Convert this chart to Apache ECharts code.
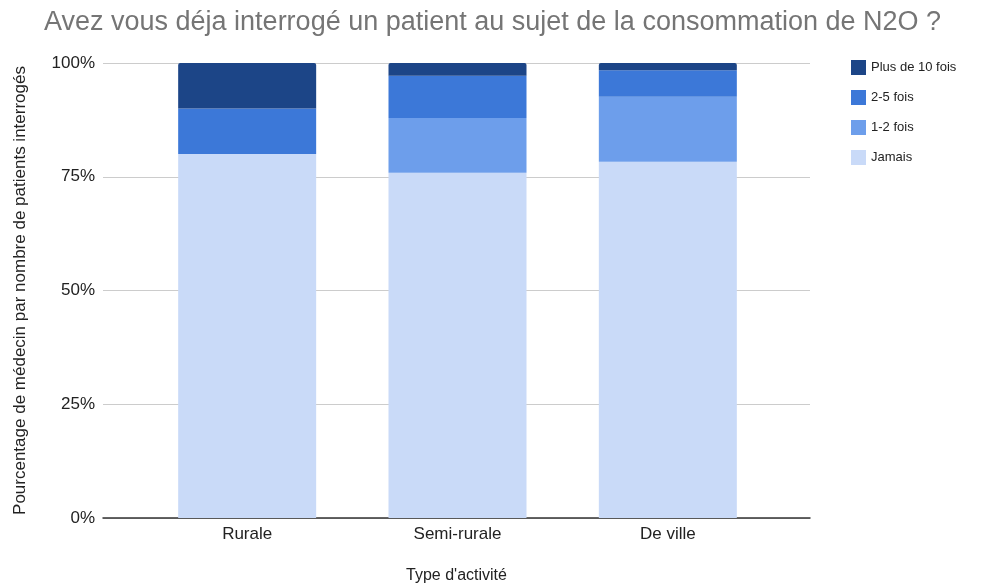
<!DOCTYPE html>
<html>
<head>
<meta charset="utf-8">
<script src="https://cdn.jsdelivr.net/npm/echarts@6/dist/echarts.min.js"></script>
<style>
html, body { margin: 0; padding: 0; background: #fff; }
#main { width: 985px; height: 585px; }
</style>
</head>
<body>
<div id="main"></div>
<script>
// données (en %)
var categories = ['Rurale', 'Semi-rurale', 'De ville'];
var jamais = [80.0, 75.9, 78.3];
var unDeux = [0, 12.0, 14.3];
var deuxCinq = [10.0, 9.3, 5.8];
var plusDix = [10.0, 2.8, 1.6];
var yTicks = [0, 25, 50, 75, 100];

var font = 'Liberation Sans, Arial, sans-serif';
var chart = echarts.init(document.getElementById('main'));

function barSerie(name, data, color, radius) {
	return {
		name: name,
		type: 'bar',
		stack: 'total',
		xAxisIndex: 1,
		yAxisIndex: 1,
		barWidth: 138,
		itemStyle: { color: color, borderRadius: radius || 0 },
		data: data
	};
}

var option = {
	animation: false,
	title: {
		text: 'Avez vous déja interrogé un patient au sujet de la consommation de N2O ?',
		left: 'center',
		top: 4,
		textStyle: { fontFamily: font, fontSize: 27, fontWeight: 'normal', color: '#757575' }
	},
	legend: {
		orient: 'vertical',
		left: 846,
		top: 55,
		itemWidth: 15,
		itemHeight: 15,
		itemGap: 15,
		icon: 'rect',
		textStyle: { fontFamily: font, fontSize: 13, color: '#222' },
		data: ['Plus de 10 fois', '2-5 fois', '1-2 fois', 'Jamais']
	},
	grid: [
		{ left: 103, right: 175, top: 63, bottom: 67, containLabel: false, outerBoundsMode: 'none' },
		{ left: 142, right: 212, top: 63, bottom: 67, containLabel: false, outerBoundsMode: 'none' }
	],
	xAxis: [{
		gridIndex: 0,
		type: 'value',
		min: 0,
		max: 1,
		axisLine: { show: true, onZero: false, lineStyle: { color: '#333', width: 1.5 } },
		axisTick: { show: false },
		axisLabel: { show: false },
		splitLine: { show: false },
		name: "Type d'activité",
		nameLocation: 'middle',
		nameGap: 50,
		nameTextStyle: { fontFamily: font, fontSize: 16, color: '#222' }
	}, {
		gridIndex: 1,
		type: 'category',
		data: categories,
		axisLine: { show: false },
		axisTick: { show: false },
		axisLabel: { fontFamily: font, fontSize: 17, color: '#222', margin: 8 }
	}],
	yAxis: [{
		gridIndex: 0,
		type: 'value',
		min: yTicks[0],
		max: yTicks[yTicks.length - 1],
		interval: 25,
		axisLine: { show: false },
		axisTick: { show: false },
		axisLabel: { formatter: '{value}%', fontFamily: font, fontSize: 17, color: '#222', margin: 8 },
		splitLine: { lineStyle: { color: '#ccc', width: 1 } },
		name: 'Pourcentage de médecin par nombre de patients interrogés',
		nameLocation: 'middle',
		nameGap: 74,
		nameTextStyle: { fontFamily: font, fontSize: 17, color: '#222' }
	}, {
		gridIndex: 1,
		type: 'value',
		min: 0,
		max: 100,
		show: false
	}],
	series: [
		barSerie('Jamais', jamais, '#c9daf8'),
		barSerie('1-2 fois', unDeux, '#6d9eeb'),
		barSerie('2-5 fois', deuxCinq, '#3c78d8'),
		barSerie('Plus de 10 fois', plusDix, '#1c4587', [2, 2, 0, 0])
	]
};
chart.setOption(option);
</script>
</body>
</html>
